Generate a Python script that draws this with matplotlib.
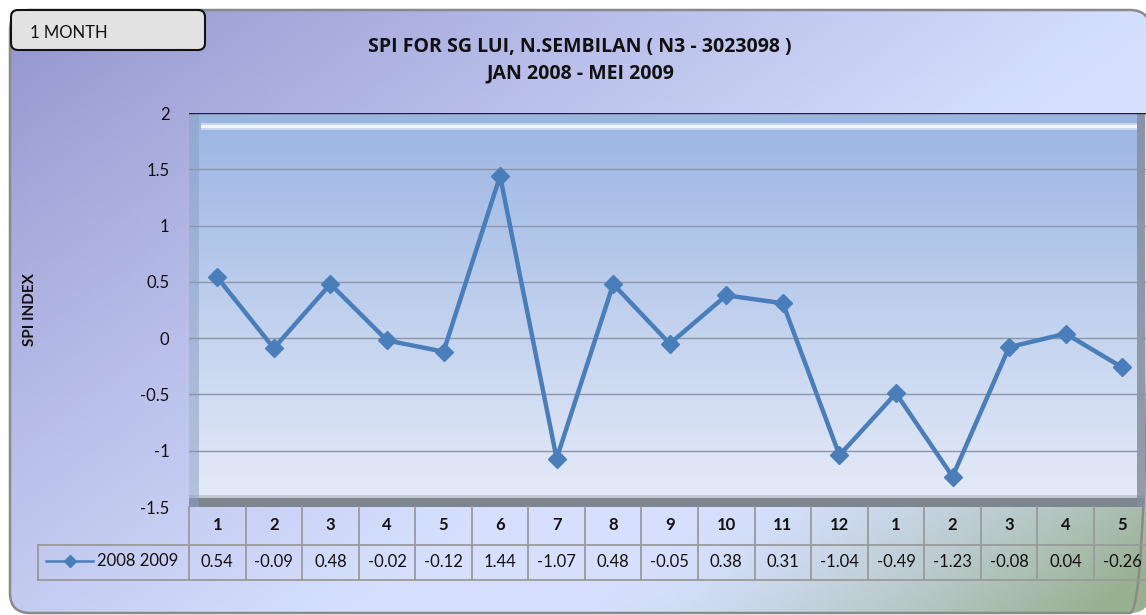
import numpy as np
import matplotlib
matplotlib.use("Agg")
import matplotlib.pyplot as plt
from matplotlib.patches import FancyBboxPatch
from matplotlib.transforms import blended_transform_factory
from matplotlib.lines import Line2D

# ---- data ----
months = ["1", "2", "3", "4", "5", "6", "7", "8", "9", "10", "11", "12",
          "1", "2", "3", "4", "5"]
spi = [0.54, -0.09, 0.48, -0.02, -0.12, 1.44, -1.07, 0.48, -0.05, 0.38,
       0.31, -1.04, -0.49, -1.23, -0.08, 0.04, -0.26]
value_labels = ["0.54", "-0.09", "0.48", "-0.02", "-0.12", "1.44", "-1.07",
                "0.48", "-0.05", "0.38", "0.31", "-1.04", "-0.49", "-1.23",
                "-0.08", "0.04", "-0.26"]
series_name = "2008 2009"
yticks = [-1.5, -1, -0.5, 0, 0.5, 1, 1.5, 2]
ytick_labels = ["-1.5", "-1", "-0.5", "0", "0.5", "1", "1.5", "2"]
title1 = "SPI FOR SG LUI, N.SEMBILAN ( N3 - 3023098 )"
title2 = "JAN 2008 - MEI 2009"
ylabel = "SPI INDEX"
badge = "1 MONTH"

W, H = 1146, 615
FONT = ["Lato", "DejaVu Sans"]
plt.rcParams['font.family'] = FONT
TXT = "#111111"

fig = plt.figure(figsize=(W / 100, H / 100), dpi=100)
fig.patch.set_facecolor("white")

def fx(px):
    return px / W

def fy(py):
    return 1 - py / H

# ---- chart background (rounded, gradient) ----
bg_ax = fig.add_axes([0, 0, 1, 1], zorder=0)
bg_ax.axis("off")
xx, yy = np.meshgrid(np.linspace(0, 1, 300), np.linspace(0, 1, 160))
t = np.clip((xx * 1.0 + yy * 0.75) / 1.0, 0, 1) ** 0.9
c0 = np.array([0x92, 0x94, 0xce]) / 255
c1 = np.array([0xd6, 0xe0, 0xfe]) / 255
img = c0[None, None, :] * (1 - t[..., None]) + c1[None, None, :] * t[..., None]
g = np.clip(((xx - 0.74) * 2.3 + (yy - 0.62) * 1.7), 0, 1) ** 1.4
cg = np.array([0x98, 0xb0, 0x90]) / 255
img = img * (1 - g[..., None]) + cg[None, None, :] * g[..., None]
im = bg_ax.imshow(img, extent=[10, W + 30, H + 30, 10], aspect="auto", zorder=0)
frame = FancyBboxPatch((10, 10), W - 6, H - 12,
                       boxstyle="round,pad=0,rounding_size=20",
                       facecolor="none", edgecolor="#8a8a8a", lw=1.8, zorder=1)
bg_ax.add_patch(frame)
im.set_clip_path(frame)

# badge
badge_box = FancyBboxPatch((11, 10), 194, 40,
                           boxstyle="round,pad=0,rounding_size=7",
                           facecolor="#e2e2e2", edgecolor="#111111", lw=1.5, zorder=3)
bg_ax.add_patch(badge_box)
bimg = np.linspace(0.96, 0.80, 50)[:, None] * np.ones((50, 10))
bim = bg_ax.imshow(np.dstack([bimg, bimg, bimg]), extent=[11, 205, 50, 10],
                   aspect="auto", zorder=2.9)
bim.set_clip_path(badge_box)
bg_ax.text(30, 33, badge, fontsize=12, color=TXT, va="center",
           ha="left", zorder=4)

# titles
bg_ax.text(580, 47, title1, fontsize=14, fontweight="bold", ha="center",
           va="center", color=TXT, zorder=4, family=["Open Sans", "DejaVu Sans"])
bg_ax.text(580, 73, title2, fontsize=14, fontweight="bold", ha="center",
           va="center", color=TXT, zorder=4, family=["Open Sans", "DejaVu Sans"])
bg_ax.text(30, 310, ylabel, fontsize=11, fontweight="bold", rotation=90,
           ha="center", va="center", color=TXT, zorder=4)
bg_ax.set_xlim(0, W)
bg_ax.set_ylim(H, 0)

# ---- main plot axes ----
left_px, right_px, top_px, bot_px = 189, 1146, 113, 507
ax = fig.add_axes([fx(left_px), fy(bot_px), fx(right_px - left_px),
                   (bot_px - top_px) / H], zorder=2)
ax.patch.set_alpha(0)
x = np.arange(len(spi))
colw = 56.56
xmax = -0.5 + (right_px - left_px) / colw
ax.set_xlim(-0.5, xmax)
ax.set_ylim(-1.5, 2)

# plot area gradient with bevel
pa_right = -0.5 + (1145 - left_px) / colw
pg = np.linspace(0, 1, 200)[:, None] * np.ones((200, 4))
top_c = np.array([0x9a, 0xb4, 0xe3]) / 255
bot_c = np.array([0xe6, 0xec, 0xf8]) / 255
pimg = top_c[None, None, :] * (1 - pg[..., None]) + bot_c[None, None, :] * pg[..., None]
ax.imshow(pimg, extent=[-0.5, pa_right, -1.5, 2], aspect="auto", zorder=0,
          origin="upper")
py = 3.5 / (bot_px - top_px)   # data units per pixel (y)
px = 1 / colw                  # data units per pixel (x)
ax.fill_between([-0.5, pa_right], -1.5, -1.5 + 9 * py, color="#7d858e", zorder=1, lw=0)
ax.fill_between([-0.5, pa_right], -1.5 + 9 * py, -1.5 + 12 * py, color="#c4c9d2", zorder=1, lw=0)
ax.fill_between([-0.5, -0.5 + 10 * px], -1.5, 2, color="#8aa0c4", alpha=0.55, zorder=1, lw=0)
ax.fill_between([pa_right - 8 * px, pa_right], -1.5, 2, color="#858e9e", alpha=0.85, zorder=1, lw=0)
ax.fill_between([-0.5 + 12 * px, pa_right - 8 * px], 2 - 17 * py, 2 - 10 * py,
                color="#eef4fb", alpha=0.55, zorder=1, lw=0)
ax.fill_between([-0.5 + 12 * px, pa_right - 8 * px], 2 - 15 * py, 2 - 12 * py,
                color="white", alpha=0.8, zorder=1, lw=0)
ax.plot([-0.5, pa_right], [2, 2], color="#222222", lw=1.0, zorder=2)

for yv in yticks[1:-1]:
    ax.axhline(yv, color="#8c96a6", lw=1.0, zorder=1.5)

ax.plot(x, spi, color="#4a7ebb", lw=3.2, marker="D", markersize=9,
        markeredgecolor="#4a7ebb", markerfacecolor="#4a7ebb", zorder=3)

ax.set_yticks(yticks)
ax.set_yticklabels(ytick_labels, fontsize=12, color=TXT)
ax.tick_params(axis="y", length=0, pad=14)
ax.set_xticks([])
for s in ax.spines.values():
    s.set_visible(False)

# ---- data table ----
tr = blended_transform_factory(ax.transData, fig.transFigure)
row1_top, row1_bot, row2_bot = 507, 545, 580
gc = "#9a9a9a"
for i in range(len(months) + 1):
    xb = i - 0.5
    ax.add_line(Line2D([xb, xb], [fy(row1_top), fy(row2_bot)], transform=tr,
                       color=gc, lw=1.3, clip_on=False, zorder=5))
ax.add_line(Line2D([-0.5, xmax + 1], [fy(row1_bot), fy(row1_bot)], transform=tr,
                   color=gc, lw=1.3, clip_on=False, zorder=5))
ax.add_line(Line2D([-0.5, xmax + 1], [fy(row2_bot), fy(row2_bot)], transform=tr,
                   color=gc, lw=1.3, clip_on=False, zorder=5))
bg_ax.plot([38, left_px], [row1_bot, row1_bot], color=gc, lw=1.3, zorder=5)
bg_ax.plot([38, left_px], [row2_bot, row2_bot], color=gc, lw=1.3, zorder=5)
bg_ax.plot([38, 38], [row1_bot, row2_bot], color=gc, lw=1.3, zorder=5)
bg_ax.plot([46, 93], [561, 561], color="#4a7ebb", lw=1.8, zorder=6)
bg_ax.plot([70], [561], marker="D", markersize=6, color="#4a7ebb", zorder=6)
bg_ax.text(97, 561, series_name, fontsize=12, ha="left", va="center",
           color=TXT, zorder=6)
bg_ax.set_xlim(0, W)
bg_ax.set_ylim(H, 0)

for i, (m, v) in enumerate(zip(months, value_labels)):
    ax.text(i, fy(525), m, transform=tr, ha="center", va="center",
            fontsize=12, fontweight="bold", color=TXT, clip_on=False, zorder=6)
    ax.text(i, fy(562), v, transform=tr, ha="center", va="center",
            fontsize=12, color=TXT, clip_on=False, zorder=6)

fig.savefig("out.png", dpi=100)
